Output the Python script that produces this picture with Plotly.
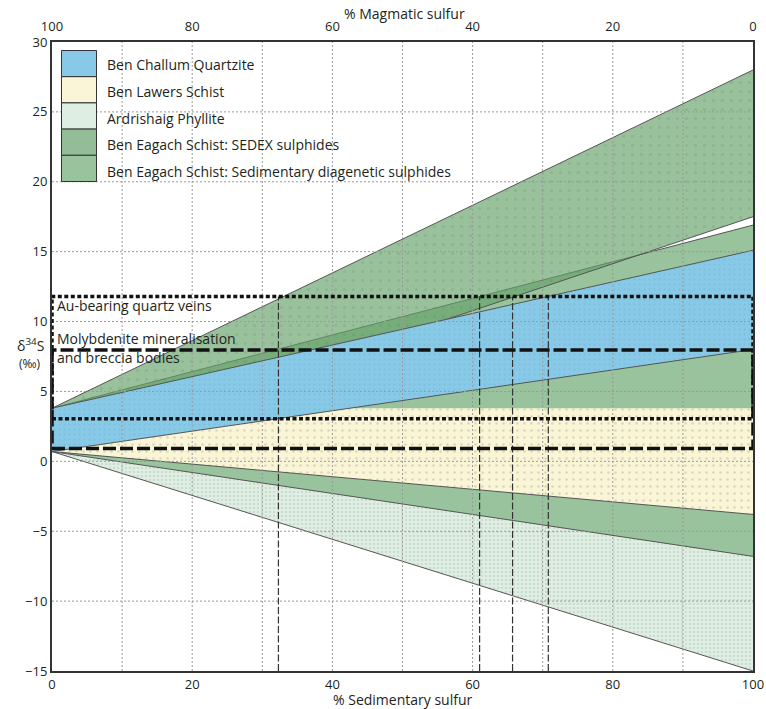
import plotly.graph_objects as go

# ---------------- data ----------------
formations = [
    "Ben Challum Quartzite",
    "Ben Lawers Schist",
    "Ardrishaig Phyllite",
    "Ben Eagach Schist: SEDEX sulphides",
    "Ben Eagach Schist: Sedimentary diagenetic sulphides",
]
magmatic_range = [0.7, 3.8]            # d34S of magmatic end-member (min, max)
sed_min = [8.0, -3.8, -15.0, 17.5, -6.8]  # sedimentary end-member minima
sed_max = [15.1, 3.8, -6.8, 28.0, 16.9]   # sedimentary end-member maxima
au_veins_range = [3.05, 11.8]
moly_range = [0.92, 7.97]
intersection_pct = [32.3, 61.0, 65.7, 70.8]
x_ends = [0, 100]
sed_ticks = [0, 20, 40, 60, 80, 100]
mag_ticks = [100, 80, 60, 40, 20, 0]
y_ticks = [-15, -10, -5, 0, 5, 10, 15, 20, 25, 30]
x_grid = [10, 20, 30, 40, 50, 60, 70, 80, 90]
y_grid = [-10, -5, 0, 5, 10, 15, 20, 25]

# ---------------- styling ----------------
FONT = "Open Sans"
TXT = "#231f20"
EDGE = "rgb(85,85,85)"
fill_colors = ["#87c9e6", "#f9f5d6", "#dfeee2", "rgba(100,160,105,0.66)", "#98c39c"]
legend_colors = ["#87c9e6", "#f9f5d6", "#dfeee2", "#93bd96", "#98c39c"]
patterns = [
    dict(shape=".", fgcolor="rgba(70,130,170,0.35)", size=5, solidity=0.1),
    dict(shape=".", fgcolor="rgba(120,120,100,0.5)", size=7, solidity=0.1),
    dict(shape=".", fgcolor="rgba(110,130,115,0.55)", size=4, solidity=0.16),
    dict(shape=".", fgcolor="rgba(80,125,85,0.35)", size=9, solidity=0.1),
    None,
]
top_line_w = [1, 0, 0, 1, 1]
draw_order = [2, 4, 3, 1, 0]

L, R, T, B = 52, 753, 42, 671
W, H = 766, 709


def px(x):
    return (x - L) / (R - L)


def py(y):
    return (B - y) / (B - T)


fig = go.Figure()

for k in draw_order:
    fig.add_trace(go.Scatter(
        x=x_ends, y=[magmatic_range[1], sed_max[k]], mode="lines",
        line=dict(color=EDGE, width=top_line_w[k]), showlegend=False,
        hoverinfo="skip"))
    kw = dict(fillpattern=patterns[k]) if patterns[k] else {}
    fig.add_trace(go.Scatter(
        x=x_ends, y=[magmatic_range[0], sed_min[k]], mode="lines",
        fill="tonexty", fillcolor=fill_colors[k],
        line=dict(color=EDGE, width=1), name=formations[k],
        showlegend=False, **kw))

# invisible trace to activate the top axis
fig.add_trace(go.Scatter(x=[100, 0], y=[0, 0], xaxis="x2", mode="lines",
                         line=dict(width=0), showlegend=False,
                         hoverinfo="skip"))

shapes = []
for gx in x_grid:
    shapes.append(dict(type="line", xref="x", yref="y", x0=gx, x1=gx,
                       y0=y_ticks[0], y1=y_ticks[-1], layer="above",
                       line=dict(color="#9a9a9a", width=1, dash="2px,2px")))
for gy in y_grid:
    shapes.append(dict(type="line", xref="x", yref="y", x0=0, x1=100,
                       y0=gy, y1=gy, layer="above",
                       line=dict(color="#9a9a9a", width=1, dash="2px,2px")))
for v in intersection_pct:
    shapes.append(dict(type="line", xref="x", yref="y", x0=v, x1=v,
                       y0=y_ticks[0], y1=au_veins_range[1], layer="above",
                       line=dict(color="#333", width=1.2, dash="7px,2.5px")))
shapes.append(dict(type="rect", xref="x", yref="y", x0=0, x1=100,
                   y0=moly_range[0], y1=moly_range[1], layer="above",
                   line=dict(color="#111", width=3.5, dash="13px,4px")))
shapes.append(dict(type="rect", xref="x", yref="y", x0=0, x1=100,
                   y0=au_veins_range[0], y1=au_veins_range[1], layer="above",
                   line=dict(color="#111", width=3.5, dash="4px,2.5px")))

# legend swatches
sw_top, sw_h = 50.5, 26.2
for i, c in enumerate(legend_colors):
    shapes.append(dict(type="rect", xref="paper", yref="paper",
                       x0=px(61.5), x1=px(96.5),
                       y0=py(sw_top + (i + 1) * sw_h), y1=py(sw_top + i * sw_h),
                       fillcolor=c, line=dict(color="#333", width=1),
                       layer="above"))

annotations = []
label_y = [65, 91.5, 118, 144.5, 171]
for i, name in enumerate(formations):
    annotations.append(dict(x=px(104.5), y=py(label_y[i]), xref="paper",
                            yref="paper", text=name, showarrow=False,
                            xanchor="left", yanchor="middle",
                            font=dict(family=FONT, size=14, color=TXT)))

annotations += [
    dict(x=px(55), y=py(305), xref="paper", yref="paper",
         text="Au-bearing quartz veins", showarrow=False, xanchor="left",
         yanchor="middle", font=dict(family=FONT, size=14, color=TXT)),
    dict(x=px(55), y=py(338), xref="paper", yref="paper",
         text="Molybdenite mineralisation", showarrow=False, xanchor="left",
         yanchor="middle", font=dict(family=FONT, size=14, color=TXT)),
    dict(x=px(55), y=py(358), xref="paper", yref="paper",
         text="and breccia bodies", showarrow=False, xanchor="left",
         yanchor="middle", font=dict(family=FONT, size=14, color=TXT)),
    dict(x=px(30), y=py(345), xref="paper", yref="paper",
         text="δ<sup>34</sup>S", showarrow=False, xanchor="center",
         yanchor="middle", font=dict(family=FONT, size=14, color=TXT)),
    dict(x=px(30), y=py(363), xref="paper", yref="paper",
         text="(‰)", showarrow=False, xanchor="center",
         yanchor="middle", font=dict(family=FONT, size=12, color=TXT)),
    dict(x=px(404), y=py(13), xref="paper", yref="paper",
         text="% Magmatic sulfur", showarrow=False, xanchor="center",
         yanchor="middle", font=dict(family=FONT, size=14, color=TXT)),
    dict(x=px(403), y=py(699), xref="paper", yref="paper",
         text="% Sedimentary sulfur", showarrow=False, xanchor="center",
         yanchor="middle", font=dict(family=FONT, size=14, color=TXT)),
]

axis_common = dict(showline=True, linecolor="#333", linewidth=2,
                   ticks="", showgrid=False, zeroline=False, automargin=False,
                   tickfont=dict(family=FONT, size=13, color=TXT))

fig.update_layout(
    width=W, height=H,
    margin=dict(l=L, r=W - R, t=T, b=H - B, autoexpand=False),
    paper_bgcolor="white", plot_bgcolor="white",
    showlegend=False,
    xaxis=dict(range=[0, 100], tickvals=sed_ticks, **axis_common),
    xaxis2=dict(range=[100, 0], tickvals=mag_ticks, overlaying="x",
                side="top", ticklabelstandoff=4, **axis_common),
    yaxis=dict(range=[-15, 30], tickvals=y_ticks, mirror=True, **axis_common),
    shapes=shapes,
    annotations=annotations,
)

fig.write_html(
    "out.html",
    config={"displayModeBar": False},
    post_script="document.body.style.margin='0';document.body.style.overflow='hidden';",
)
